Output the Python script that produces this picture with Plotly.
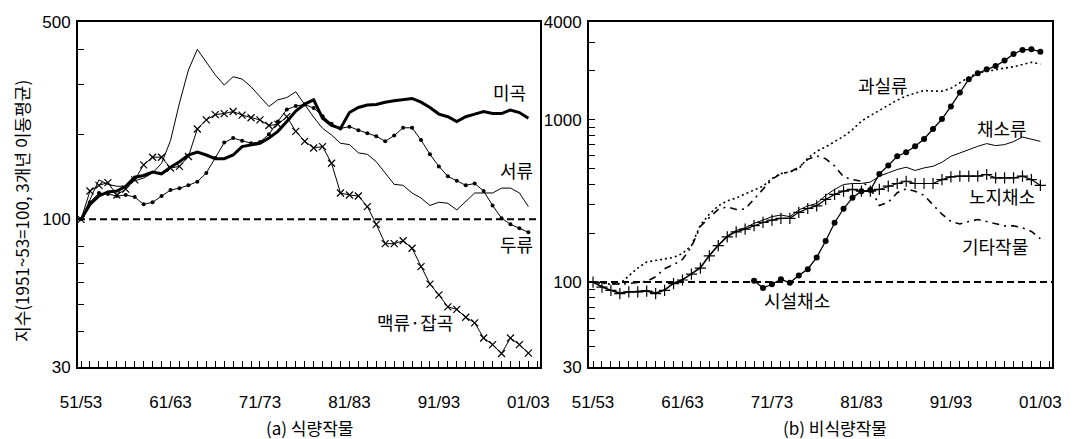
import math
import plotly.graph_objects as go

W, H = 1073, 439

# ---------------- data ----------------
years = list(range(1952, 2003))  # centre year of 3-yr moving average
xtick_vals = [1952, 1962, 1972, 1982, 1992, 2002]
xtick_text = ["51/53", "61/63", "71/73", "81/83", "91/93", "01/03"]
BASE = 100

# (a) food crops
rice = [100, 113, 121, 125, 126, 131, 141, 143, 147, 145, 153, 160, 169, 173, 169, 164, 164,
        169, 181, 183, 186, 194, 205, 222, 242, 256, 265, 228, 215, 210, 239, 249, 254, 255,
        260, 263, 266, 268, 260, 249, 236, 231, 222, 231, 236, 241, 237, 237, 244, 239, 228]
potato = [100, 118, 138, 133, 131, 131, 137, 140, 146, 158, 190, 258, 338, 400, 361, 325, 299,
          320, 314, 295, 272, 251, 265, 270, 283, 254, 230, 210, 199, 186, 184, 172, 170, 160,
          146, 133, 132, 124, 119, 112, 115, 114, 108, 116, 124, 124, 124, 129, 129, 124, 111]
beans = [100, 115, 124, 123, 121, 122, 120, 113, 115, 121, 127, 129, 132, 136, 146, 165, 187,
         194, 190, 186, 188, 200, 222, 245, 252, 255, 248, 232, 218, 210, 213, 207, 202, 197,
         189, 198, 211, 211, 191, 170, 154, 142, 137, 132, 134, 126, 112, 101, 96, 93, 90]
barley = [100, 126, 132, 135, 122, 128, 138, 156, 166, 166, 152, 154, 167, 209, 225, 235, 237,
          241, 234, 229, 225, 215, 217, 231, 205, 189, 179, 181, 158, 124, 122, 121, 111, 96,
          82, 82, 84, 79, 68, 59, 54, 49, 48, 45, 43, 38, 36, 33.5, 38, 36, 33.6]

# (b) non-food crops
fruit = [100, 99, 97, 98, 109, 122, 133, 136, 138, 142, 150, 168, 225, 262, 295, 316, 330,
         350, 370, 390, 435, 466, 477, 500, 580, 640, 680, 735, 790, 870, 980, 1060, 1140,
         1220, 1320, 1400, 1460, 1515, 1500, 1500, 1560, 1680, 1830, 1940, 1990, 2030, 2080,
         2120, 2200, 2260, 2200]
veg = [100, 94, 89, 86, 87, 88, 89, 86, 90, 99, 104, 113, 124, 147, 170, 193, 208, 216, 230,
       241, 253, 259, 253, 278, 295, 305, 342, 372, 399, 405, 405, 413, 449, 471, 494, 510,
       487, 505, 517, 547, 596, 624, 655, 686, 713, 693, 703, 733, 783, 761, 736]
open_veg = [100, 93, 89, 85, 87, 87, 88, 85, 89, 98, 103, 112, 122, 145, 168, 190, 204, 212,
            223, 233, 241, 247, 247, 269, 284, 295, 323, 347, 363, 372, 363, 363, 372, 390,
            405, 418, 405, 405, 405, 428, 445, 449, 449, 449, 460, 439, 439, 439, 449, 428, 394]
green_years = list(range(1970, 2003))
green_veg = [102, 92, 97, 104, 99, 110, 120, 142, 179, 232, 283, 331, 363, 369, 464, 522, 596,
             631, 686, 761, 877, 1009, 1208, 1472, 1776, 1933, 2046, 2145, 2313, 2541, 2689,
             2714, 2624]
other = [100, 99, 97, 97, 98, 99, 101, 108, 121, 128, 138, 165, 220, 250, 280, 291, 280, 282,
         323, 370, 430, 466, 477, 510, 570, 600, 575, 520, 445, 428, 418, 380, 296, 310, 355,
         376, 363, 342, 300, 262, 236, 228, 236, 243, 236, 228, 222, 222, 216, 205, 185]

FONT = "Liberation Sans, Arial, Noto Sans CJK KR, sans-serif"
KFONT = "Noto Sans CJK KR, sans-serif"

xr = [1952 - 0.34, 1952 + 51.3]
xr2 = [1952 - 0.45, 1952 + 51.3]

fig = go.Figure()


def add(x, y, ax, **kw):
    fig.add_trace(go.Scatter(x=x, y=y, xaxis="x" + ax, yaxis="y" + ax,
                             showlegend=False, hoverinfo="skip", **kw))


# base lines at 100
add(xr, [BASE, BASE], "", mode="lines", line=dict(color="black", width=2, dash="7px,4px"))
add(xr2, [BASE, BASE], "2", mode="lines", line=dict(color="black", width=2, dash="7px,4px"))

# left panel
add(years, potato, "", mode="lines", line=dict(color="black", width=1))
add(years, beans, "", mode="lines+markers", line=dict(color="black", width=1),
    marker=dict(symbol="circle", size=4, color="black"))
add(years, barley, "", mode="lines+markers", line=dict(color="black", width=1),
    marker=dict(symbol="x-thin", size=7, line=dict(color="black", width=1.2)))
add(years, rice, "", mode="lines", line=dict(color="black", width=3))

# right panel
add(years, fruit, "2", mode="lines", line=dict(color="black", width=1.6, dash="2px,3px"))
add(years, other, "2", mode="lines", line=dict(color="black", width=1.6, dash="7px,5px,2px,5px"))
add(years, veg, "2", mode="lines", line=dict(color="black", width=1))
add(years, open_veg, "2", mode="lines+markers", line=dict(color="black", width=1.2),
    marker=dict(symbol="cross-thin", size=8, line=dict(color="black", width=1.2)))
add(green_years, green_veg, "2", mode="lines+markers", line=dict(color="black", width=1.3),
    marker=dict(symbol="circle", size=6, color="black"))

common_x = dict(tickvals=xtick_vals, ticktext=xtick_text, ticks="inside", ticklen=6,
                tickwidth=1, tickcolor="black", showline=True, linewidth=2, linecolor="black",
                mirror=True, showgrid=False, zeroline=False, ticklabelstandoff=19,
                automargin=False,
                minor=dict(dtick=1, tick0=1952, ticks="inside", ticklen=6, tickcolor="black",
                           tickwidth=1),
                tickfont=dict(family=FONT, size=17, color="black"))
common_y = dict(type="log", ticks="inside", ticklen=6, tickwidth=1, tickcolor="black",
                showline=True, linewidth=2, linecolor="black", mirror=True, showgrid=False,
                zeroline=False, ticklabelstandoff=2, automargin=False,
                tickfont=dict(family=FONT, size=17, color="black"))

fig.update_layout(
    width=W, height=H, margin=dict(l=0, r=0, t=0, b=0, autoexpand=False),
    paper_bgcolor="white", plot_bgcolor="white",
    xaxis=dict(domain=[78 / W, 540 / W], range=xr, anchor="y", **common_x),
    yaxis=dict(domain=[1 - 367 / H, 1 - 22 / H], range=[math.log10(30), math.log10(500)],
               anchor="x", tickmode="array", tickvals=[30, 100, 500], ticktext=["30", "100", "500"],
               minor=dict(tickmode="array", tickvals=[40, 50, 60, 70, 80, 200, 300, 400],
                          ticks="inside", ticklen=6, tickcolor="black", tickwidth=1),
               **common_y),
    xaxis2=dict(domain=[589 / W, 1052 / W], range=xr2, anchor="y2", **common_x),
    yaxis2=dict(domain=[1 - 367 / H, 1 - 22 / H], range=[math.log10(30), math.log10(4000)],
                anchor="x2", tickmode="array", tickvals=[30, 100, 1000, 4000],
                ticktext=["30", "100", "1000", "4000"],
                minor=dict(tickmode="array",
                           tickvals=[40, 50, 60, 70, 80, 90, 200, 300, 400, 500, 600, 700, 800,
                                     900, 2000, 3000],
                           ticks="inside", ticklen=6, tickcolor="black", tickwidth=1),
                **common_y),
)


def label(text, px, py, size=18, angle=0):
    fig.add_annotation(text=text, xref="paper", yref="paper", x=px / W, y=1 - py / H,
                       showarrow=False, xanchor="center", yanchor="middle", textangle=angle,
                       font=dict(family=KFONT, size=size, color="black"),
                       bgcolor="rgba(0,0,0,0)", borderpad=0)


label("미곡", 509, 92)
label("서류", 516, 170)
label("두류", 516, 244)
label("맥류·잡곡", 415, 322)
label("과실류", 883, 85)
label("채소류", 1002, 128)
label("노지채소", 1002, 196)
label("기타작물", 995, 246)
label("시설채소", 797, 300)
label("(a) 식량작물", 309, 427, size=17)
label("(b) 비식량작물", 835, 427, size=17)
label("지수(1951~53=100, 3개년 이동평균)", 21, 211, size=17, angle=-90)

fig.write_html("out.html")
